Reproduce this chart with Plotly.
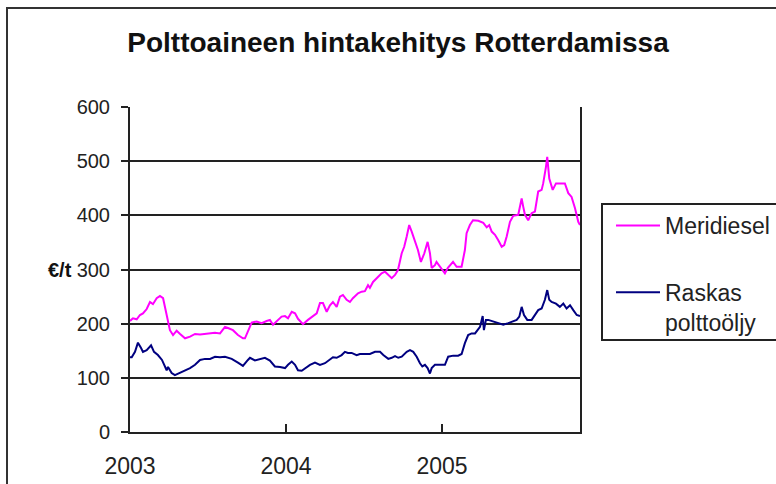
import plotly.graph_objects as go

# Meridiesel (EUR/t), time as fractional year
meri_t = [2003.000, 2003.019, 2003.043, 2003.064, 2003.083, 2003.107, 2003.128, 2003.147, 2003.171, 2003.192,
          2003.212, 2003.224, 2003.242, 2003.256, 2003.276, 2003.299, 2003.321, 2003.353, 2003.385, 2003.417,
          2003.449, 2003.481, 2003.513, 2003.545, 2003.577, 2003.609, 2003.628, 2003.660, 2003.692, 2003.724,
          2003.737, 2003.756, 2003.780, 2003.812, 2003.844, 2003.876, 2003.897, 2003.917, 2003.940, 2003.972,
          2003.994, 2004.013, 2004.037, 2004.058, 2004.077, 2004.109, 2004.141, 2004.173, 2004.197, 2004.218,
          2004.237, 2004.261, 2004.282, 2004.301, 2004.325, 2004.346, 2004.365, 2004.389, 2004.410, 2004.429,
          2004.462, 2004.485, 2004.506, 2004.526, 2004.538, 2004.558, 2004.590, 2004.613, 2004.635, 2004.654,
          2004.678, 2004.699, 2004.718, 2004.742, 2004.758, 2004.774, 2004.790, 2004.806, 2004.827, 2004.846,
          2004.865, 2004.887, 2004.908, 2004.923, 2004.934, 2004.955, 2004.965, 2004.987, 2005.019, 2005.038,
          2005.071, 2005.094, 2005.126, 2005.147, 2005.158, 2005.179, 2005.199, 2005.233, 2005.265, 2005.287,
          2005.303, 2005.319, 2005.340, 2005.361, 2005.383, 2005.399, 2005.415, 2005.436, 2005.457, 2005.489,
          2005.511, 2005.521, 2005.532, 2005.553, 2005.575, 2005.596, 2005.617, 2005.639, 2005.649, 2005.667,
          2005.675, 2005.688, 2005.710, 2005.731, 2005.756, 2005.788, 2005.810, 2005.831, 2005.853, 2005.874,
          2005.885]
meri_v = [205, 210, 208, 216, 219, 227, 240, 236, 247, 251,
          247, 231, 213, 188, 179, 187, 181, 173, 176, 181,
          180, 181, 181, 183, 182, 194, 192, 188, 179, 173,
          173, 185, 202, 204, 201, 205, 207, 198, 204, 213,
          214, 210, 222, 219, 209, 199, 207, 213, 219, 238,
          238, 222, 234, 240, 231, 250, 253, 244, 240, 247,
          256, 259, 260, 271, 266, 277, 287, 293, 296, 290,
          284, 290, 299, 330, 342, 361, 382, 370, 354, 336,
          314, 330, 351, 330, 303, 308, 314, 305, 293, 303,
          314, 305, 305, 336, 367, 382, 391, 390, 386, 378,
          382, 370, 364, 354, 342, 345, 361, 388, 399, 401,
          431, 416, 401, 391, 404, 407, 444, 447, 459, 490,
          508, 468, 447, 459, 459, 459, 441, 434, 413, 388,
          382]

# Raskas polttoöljy (EUR/t)
rask_t = [2003.000, 2003.011, 2003.032, 2003.051, 2003.071, 2003.083, 2003.107, 2003.135, 2003.154, 2003.179,
          2003.205, 2003.224, 2003.235, 2003.244, 2003.267, 2003.288, 2003.321, 2003.353, 2003.385, 2003.417,
          2003.449, 2003.481, 2003.513, 2003.545, 2003.577, 2003.609, 2003.652, 2003.692, 2003.724, 2003.756,
          2003.769, 2003.801, 2003.833, 2003.865, 2003.897, 2003.929, 2003.962, 2003.994, 2004.013, 2004.037,
          2004.058, 2004.077, 2004.101, 2004.122, 2004.154, 2004.186, 2004.218, 2004.250, 2004.282, 2004.301,
          2004.325, 2004.357, 2004.378, 2004.397, 2004.421, 2004.453, 2004.474, 2004.506, 2004.538, 2004.571,
          2004.603, 2004.624, 2004.656, 2004.678, 2004.699, 2004.720, 2004.742, 2004.774, 2004.795, 2004.816,
          2004.838, 2004.859, 2004.874, 2004.891, 2004.908, 2004.923, 2004.934, 2004.955, 2004.987, 2005.019,
          2005.040, 2005.072, 2005.104, 2005.126, 2005.147, 2005.168, 2005.190, 2005.212, 2005.244, 2005.261,
          2005.269, 2005.282, 2005.297, 2005.329, 2005.361, 2005.393, 2005.425, 2005.447, 2005.479, 2005.496,
          2005.511, 2005.526, 2005.547, 2005.575, 2005.596, 2005.617, 2005.639, 2005.660, 2005.675, 2005.688,
          2005.703, 2005.731, 2005.756, 2005.778, 2005.799, 2005.821, 2005.842, 2005.864, 2005.885]
rask_v = [138, 138, 148, 165, 155, 148, 151, 160, 148, 142,
          133, 120, 114, 120, 109, 105, 109, 113, 118, 124,
          133, 135, 135, 139, 138, 139, 135, 128, 122, 133,
          137, 132, 135, 137, 132, 121, 120, 118, 124, 130,
          124, 114, 113, 118, 124, 128, 124, 127, 135, 138,
          137, 142, 148, 146, 146, 142, 144, 144, 144, 148,
          148, 142, 135, 137, 140, 137, 139, 148, 151, 148,
          139, 127, 121, 124, 118, 108, 118, 124, 124, 124,
          139, 141, 141, 144, 164, 179, 182, 182, 194, 214,
          188, 207, 207, 204, 201, 198, 201, 204, 207, 213,
          231, 216, 207, 207, 216, 225, 228, 244, 262, 244,
          240, 237, 231, 237, 228, 234, 225, 216, 214]

x_ticks = [2003, 2004, 2005]
x_tick_labels = ["2003", "2004", "2005"]
y_ticks = [0, 100, 200, 300, 400, 500, 600]
y_tick_labels = ["0", "100", "200", "300", "400", "500", "600"]

FONT = "Liberation Sans, Arial, sans-serif"

fig = go.Figure()
fig.add_trace(go.Scatter(x=meri_t, y=meri_v, mode="lines", name="Meridiesel", legendgroup="g1",
                         line=dict(color="#FF00FF", width=2)))
fig.add_trace(go.Scatter(x=rask_t, y=rask_v, mode="lines", name="Raskas<br>polttoöljy", legendgroup="g2",
                         line=dict(color="#000080", width=2)))

fig.update_layout(
    width=776, height=484,
    margin=dict(l=130, r=196, t=107, b=52, autoexpand=False),
    paper_bgcolor="white", plot_bgcolor="white",
    font=dict(family=FONT, size=19, color="#222222"),
    title=dict(text="<b>Polttoaineen hintakehitys Rotterdamissa</b>",
               x=(398) / 776, xanchor="center", y=1 - 42 / 484, yanchor="middle",
               font=dict(family=FONT, size=28, color="#111111")),
    showlegend=True,
    legend=dict(x=(611 - 130) / 450, xanchor="left", y=(432 - 204) / 325, yanchor="top",
                bgcolor="rgba(0,0,0,0)", borderwidth=0, valign="top", itemwidth=44,
                font=dict(family=FONT, size=23, color="#222222"),
                traceorder="grouped", tracegroupgap=34),
    xaxis=dict(range=[2003, 2005.885], tickmode="array", tickvals=x_ticks, ticktext=x_tick_labels,
               showgrid=False, showline=True, linecolor="#222222", linewidth=2, mirror=False,
               ticks="inside", ticklen=8, tickwidth=2, tickcolor="#222222", zeroline=False,
               ticklabelstandoff=12, tickfont=dict(size=23), automargin=False),
    yaxis=dict(range=[0, 600], tickmode="array", tickvals=y_ticks, ticktext=y_tick_labels,
               showgrid=True, gridcolor="#222222", gridwidth=2,
               showline=True, linecolor="#222222", linewidth=2, mirror=True,
               ticks="outside", ticklen=7, tickwidth=2, tickcolor="#222222", zeroline=False,
               ticklabelstandoff=7, tickfont=dict(size=20), automargin=False),
    annotations=[dict(text="<b>€/t</b>", x=(60 - 130) / 450, xref="paper", xanchor="center",
                      y=(432 - 270) / 325, yref="paper", yanchor="middle", showarrow=False,
                      font=dict(family=FONT, size=20, color="#111111"))],
    shapes=[
        dict(type="rect", xref="paper", yref="paper",
             x0=(602 - 130) / 450, x1=(800 - 130) / 450,
             y0=(432 - 340) / 325, y1=(432 - 204) / 325,
             line=dict(color="#222222", width=2), fillcolor="rgba(0,0,0,0)"),
        dict(type="rect", xref="paper", yref="paper",
             x0=(7 - 130) / 450, x1=(800 - 130) / 450,
             y0=(432 - 520) / 325, y1=(432 - 8) / 325,
             line=dict(color="#333333", width=2), fillcolor="rgba(0,0,0,0)"),
    ],
)

fig.write_html("out.html")
